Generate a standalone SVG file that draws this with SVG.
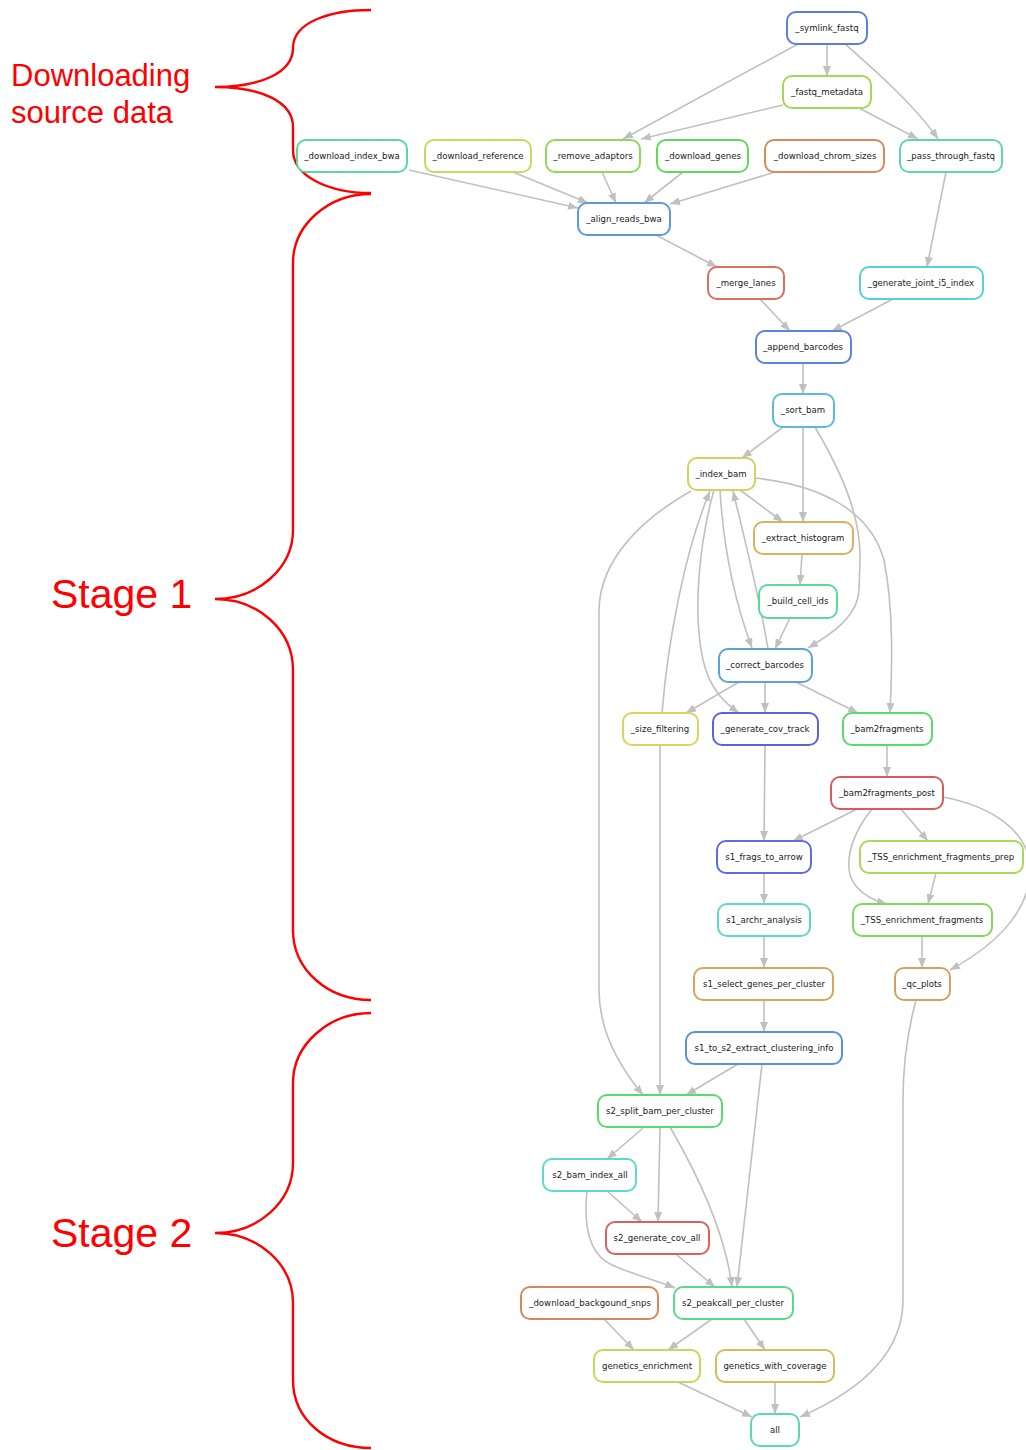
<svg xmlns="http://www.w3.org/2000/svg" width="1026" height="1450" viewBox="0 0 1026 1450">
  <style>
    .node rect { fill: #ffffff; stroke-width: 2; }
    .node text { font-family: "DejaVu Sans", Verdana, sans-serif; font-size: 8.6px; fill: #1a1a1a; text-anchor: middle; }
    .edges path { fill: none; stroke: #c0c0c0; stroke-width: 1.6; marker-end: url(#arrow); }
    .brace { fill: none; stroke: #ff0000; stroke-width: 2.4; }
    .label { font-family: "Liberation Sans", Arial, sans-serif; fill: #ff0000; }
  </style>
  <defs>
    <marker id="arrow" markerUnits="userSpaceOnUse" markerWidth="11" markerHeight="8" refX="10" refY="4" orient="auto">
      <path d="M0,0 L10,4 L0,8 z" fill="#c0c0c0"/>
    </marker>
  </defs>
  <rect width="1026" height="1450" fill="#ffffff"/>

  <!-- stage braces and captions -->
  <g id="annotations">
    <path class="brace" d="M371,10 C330,10 293,22 293,48 C293,72 262,87 215,87 C262,87 293,102 293,127 L293,150 C293,176 328,193 371,193"/>
    <path class="brace" d="M371,194 C328,194 293,225 293,263 L293,530 C293,568 258,599 215,599 C258,599 293,630 293,670 L293,930 C293,970 328,1000 371,1000"/>
    <path class="brace" d="M371,1013 C328,1013 293,1045 293,1083 L293,1163 C293,1202 258,1233 215,1233 C258,1233 293,1264 293,1303 L293,1380 C293,1420 328,1448 371,1448"/>
    <text class="label" x="11" y="86" font-size="31">Downloading</text>
    <text class="label" x="11" y="123" font-size="31">source data</text>
    <text class="label" x="51" y="608" font-size="41">Stage 1</text>
    <text class="label" x="51" y="1247" font-size="41">Stage 2</text>
  </g>

  <!-- connectors -->
  <g id="edges" class="edges">
    <path d="M827,44 L827,76"/>
    <path d="M798,44 L623,139"/>
    <path d="M845,44 C870,66 915,105 938,139"/>
    <path d="M783,105 L641,139"/>
    <path d="M859,108 L918,139"/>
    <path d="M409,170 L578,208"/>
    <path d="M513,172 L588,203"/>
    <path d="M602,172 L616,203"/>
    <path d="M683,172 L644,203"/>
    <path d="M775,172 L670,204"/>
    <path d="M946,172 L927,267"/>
    <path d="M656,235 L717,267"/>
    <path d="M760,299 L790,331"/>
    <path d="M893,299 L832,331"/>
    <path d="M803,363 L803,394"/>
    <path d="M783,427 L742,458"/>
    <path d="M803,427 L803,522"/>
    <path d="M815,427 C845,478 861,520 860,560 L859,590 C858,615 835,632 808,648"/>
    <path d="M740,490 L783,522"/>
    <path d="M755,478 C820,485 870,510 884,560 C894,610 892,670 890,713"/>
    <path d="M691,491 C640,520 600,560 599,610 L599,990 C599,1030 618,1065 643,1095"/>
    <path d="M662,713 C668,640 685,550 710,491"/>
    <path d="M714,490 C700,540 692,610 703,660 C710,690 725,703 739,713"/>
    <path d="M720,490 C724,560 738,610 752,648"/>
    <path d="M768,649 C760,600 745,540 733,491"/>
    <path d="M802,554 L800,585"/>
    <path d="M790,618 L775,649"/>
    <path d="M739,682 L686,713"/>
    <path d="M765,682 L765,713"/>
    <path d="M796,682 L858,713"/>
    <path d="M660,745 L660,1095"/>
    <path d="M765,745 L764,841"/>
    <path d="M887,745 L887,777"/>
    <path d="M857,809 L793,841"/>
    <path d="M872,809 C855,830 845,855 850,875 C856,893 872,900 887,904"/>
    <path d="M901,809 L928,841"/>
    <path d="M943,797 C990,806 1030,830 1030,870 C1030,905 1005,940 950,970"/>
    <path d="M936,873 L928,904"/>
    <path d="M764,873 L764,904"/>
    <path d="M764,936 L764,968"/>
    <path d="M922,936 L922,968"/>
    <path d="M764,1000 L764,1032"/>
    <path d="M738,1064 L686,1095"/>
    <path d="M762,1064 L737,1287"/>
    <path d="M916,1000 C908,1030 903,1060 903,1100 L903,1300 C903,1360 850,1395 800,1417"/>
    <path d="M643,1128 L607,1159"/>
    <path d="M660,1128 L658,1222"/>
    <path d="M670,1127 C695,1170 725,1230 732,1287"/>
    <path d="M607,1191 L642,1222"/>
    <path d="M587,1191 C583,1230 590,1255 612,1265 C635,1275 655,1280 675,1288"/>
    <path d="M677,1255 L715,1287"/>
    <path d="M604,1319 L634,1350"/>
    <path d="M712,1319 L668,1350"/>
    <path d="M744,1319 L765,1350"/>
    <path d="M678,1382 L752,1417"/>
    <path d="M775,1382 L775,1414"/>
  </g>

  <!-- workflow rules -->
  <g id="n_symlink_fastq" class="node"><rect x="787" y="12" width="80" height="32" rx="9" stroke="#5b7fd9"/><text x="827" y="31">_symlink_fastq</text></g>
  <g id="n_fastq_metadata" class="node"><rect x="783" y="76" width="88" height="32" rx="9" stroke="#a3d95b"/><text x="827" y="95">_fastq_metadata</text></g>
  <g id="n_download_index_bwa" class="node"><rect x="297" y="140" width="110" height="32" rx="9" stroke="#5bd99c"/><text x="352" y="159">_download_index_bwa</text></g>
  <g id="n_download_reference" class="node"><rect x="425" y="140" width="106" height="32" rx="9" stroke="#c9d95b"/><text x="478" y="159">_download_reference</text></g>
  <g id="n_remove_adaptors" class="node"><rect x="546" y="140" width="94" height="32" rx="9" stroke="#8fd95b"/><text x="593" y="159">_remove_adaptors</text></g>
  <g id="n_download_genes" class="node"><rect x="657" y="140" width="91" height="32" rx="9" stroke="#62d95b"/><text x="703" y="159">_download_genes</text></g>
  <g id="n_download_chrom_sizes" class="node"><rect x="765" y="140" width="119" height="32" rx="9" stroke="#d98a5b"/><text x="825" y="159">_download_chrom_sizes</text></g>
  <g id="n_pass_through_fastq" class="node"><rect x="900" y="140" width="102" height="32" rx="9" stroke="#5bd9a8"/><text x="951" y="159">_pass_through_fastq</text></g>
  <g id="n_align_reads_bwa" class="node"><rect x="578" y="203" width="92" height="32" rx="9" stroke="#5b9bd9"/><text x="624" y="222">_align_reads_bwa</text></g>
  <g id="n_merge_lanes" class="node"><rect x="708" y="267" width="76" height="32" rx="9" stroke="#d9705b"/><text x="746" y="286">_merge_lanes</text></g>
  <g id="n_generate_joint_i5_index" class="node"><rect x="860" y="267" width="123" height="32" rx="9" stroke="#5bcfd9"/><text x="921" y="286">_generate_joint_i5_index</text></g>
  <g id="n_append_barcodes" class="node"><rect x="756" y="331" width="95" height="32" rx="9" stroke="#5b84d9"/><text x="803" y="350">_append_barcodes</text></g>
  <g id="n_sort_bam" class="node"><rect x="773" y="394" width="61" height="33" rx="9" stroke="#5bbcd9"/><text x="803" y="413">_sort_bam</text></g>
  <g id="n_index_bam" class="node"><rect x="688" y="458" width="67" height="32" rx="9" stroke="#d9d05b"/><text x="721" y="477">_index_bam</text></g>
  <g id="n_extract_histogram" class="node"><rect x="754" y="522" width="99" height="32" rx="9" stroke="#d9b25b"/><text x="803" y="541">_extract_histogram</text></g>
  <g id="n_build_cell_ids" class="node"><rect x="759" y="585" width="78" height="33" rx="9" stroke="#5bd99a"/><text x="798" y="604">_build_cell_ids</text></g>
  <g id="n_correct_barcodes" class="node"><rect x="719" y="649" width="93" height="33" rx="9" stroke="#5ba3d9"/><text x="765" y="668">_correct_barcodes</text></g>
  <g id="n_size_filtering" class="node"><rect x="623" y="713" width="75" height="32" rx="9" stroke="#d9d55b"/><text x="660" y="732">_size_filtering</text></g>
  <g id="n_generate_cov_track" class="node"><rect x="713" y="713" width="105" height="32" rx="9" stroke="#5b63d9"/><text x="765" y="732">_generate_cov_track</text></g>
  <g id="n_bam2fragments" class="node"><rect x="843" y="713" width="89" height="32" rx="9" stroke="#5bd96a"/><text x="887" y="732">_bam2fragments</text></g>
  <g id="n_bam2fragments_post" class="node"><rect x="831" y="777" width="112" height="32" rx="9" stroke="#d95b5b"/><text x="887" y="796">_bam2fragments_post</text></g>
  <g id="n_s1_frags_to_arrow" class="node"><rect x="717" y="841" width="94" height="32" rx="9" stroke="#5b6ed9"/><text x="764" y="860">s1_frags_to_arrow</text></g>
  <g id="n_TSS_enrichment_fragments_prep" class="node"><rect x="860" y="841" width="163" height="32" rx="9" stroke="#abd95b"/><text x="941" y="860">_TSS_enrichment_fragments_prep</text></g>
  <g id="n_s1_archr_analysis" class="node"><rect x="718" y="904" width="92" height="32" rx="9" stroke="#5bd9cc"/><text x="764" y="923">s1_archr_analysis</text></g>
  <g id="n_TSS_enrichment_fragments" class="node"><rect x="853" y="904" width="139" height="32" rx="9" stroke="#80d95b"/><text x="922" y="923">_TSS_enrichment_fragments</text></g>
  <g id="n_s1_select_genes_per_cluster" class="node"><rect x="694" y="968" width="139" height="32" rx="9" stroke="#d9a65b"/><text x="764" y="987">s1_select_genes_per_cluster</text></g>
  <g id="n_qc_plots" class="node"><rect x="895" y="968" width="55" height="32" rx="9" stroke="#d9a05b"/><text x="922" y="987">_qc_plots</text></g>
  <g id="n_s1_to_s2_extract_clustering_info" class="node"><rect x="686" y="1032" width="156" height="32" rx="9" stroke="#5b8fd9"/><text x="764" y="1051">s1_to_s2_extract_clustering_info</text></g>
  <g id="n_s2_split_bam_per_cluster" class="node"><rect x="598" y="1095" width="124" height="32" rx="9" stroke="#5bd971"/><text x="660" y="1114">s2_split_bam_per_cluster</text></g>
  <g id="n_s2_bam_index_all" class="node"><rect x="543" y="1159" width="93" height="32" rx="9" stroke="#5bd9d2"/><text x="590" y="1178">s2_bam_index_all</text></g>
  <g id="n_s2_generate_cov_all" class="node"><rect x="606" y="1222" width="103" height="32" rx="9" stroke="#d9625b"/><text x="657" y="1241">s2_generate_cov_all</text></g>
  <g id="n_download_backgound_snps" class="node"><rect x="521" y="1287" width="137" height="32" rx="9" stroke="#d9875b"/><text x="590" y="1306">_download_backgound_snps</text></g>
  <g id="n_s2_peakcall_per_cluster" class="node"><rect x="674" y="1287" width="119" height="32" rx="9" stroke="#5bd98a"/><text x="733" y="1306">s2_peakcall_per_cluster</text></g>
  <g id="n_genetics_enrichment" class="node"><rect x="594" y="1350" width="106" height="32" rx="9" stroke="#c4d95b"/><text x="647" y="1369">genetics_enrichment</text></g>
  <g id="n_genetics_with_coverage" class="node"><rect x="716" y="1350" width="118" height="32" rx="9" stroke="#d9bb5b"/><text x="775" y="1369">genetics_with_coverage</text></g>
  <g id="n_all" class="node"><rect x="751" y="1414" width="48" height="32" rx="9" stroke="#5bd9b4"/><text x="775" y="1433">all</text></g>
</svg>
